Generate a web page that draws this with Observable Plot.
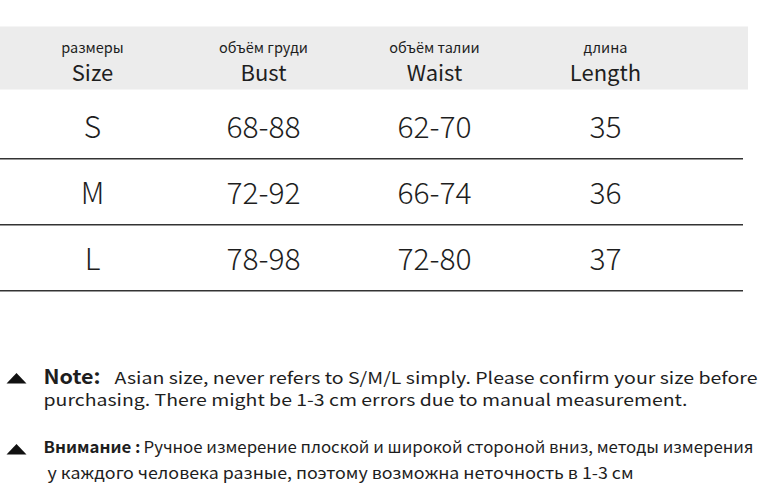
<!DOCTYPE html>
<html>
<head>
<meta charset="utf-8">
<script src="https://cdn.jsdelivr.net/npm/d3@7"></script>
<script src="https://cdn.jsdelivr.net/npm/@observablehq/plot@0.6"></script>
<style>
  html, body { margin: 0; padding: 0; background: #fff; }
  #chart svg { display: block; }
</style>
</head>
<body>
<div id="chart"></div>
<script>
// ---- data ----
const columns = ["Size", "Bust", "Waist", "Length"];
const headerRu = ["размеры", "объём груди", "объём талии", "длина"];
const sizes = ["S", "M", "L"];
const bust = ["68-88", "72-92", "78-98"];
const waist = ["62-70", "66-74", "72-80"];
const lengths = ["35", "36", "37"];

const noteEnLabel = "Note:";
const noteEnLines = [
  "Asian size, never refers to S/M/L simply. Please confirm your size before",
  "purchasing. There might be 1-3 cm errors due to manual measurement."
];
const noteRuLabel = "Внимание :";
const noteRuLines = [
  "Ручное измерение плоской и широкой стороной вниз, методы измерения",
  "у каждого человека разные, поэтому возможна неточность в 1-3 см"
];

// ---- tables built from the arrays ----
const rowsY = ["header", ...sizes];
const cells = [];
sizes.forEach((s, i) => {
  cells.push({row: s, col: "Size", text: s});
  cells.push({row: s, col: "Bust", text: bust[i]});
  cells.push({row: s, col: "Waist", text: waist[i]});
  cells.push({row: s, col: "Length", text: lengths[i]});
});
const headers = columns.map((c, i) => ({col: c, en: c, ru: headerRu[i]}));

const yTop = 25, yBottom = 291;
const bw = (yBottom - yTop) / rowsY.length;
const font = "'Noto Sans CJK SC', 'Noto Sans', sans-serif";
const ink = "#1e1e1e";

const flatTriangle = {
  draw(context) {
    context.moveTo(-10, 5);
    context.lineTo(10, 5);
    context.lineTo(0, -5.5);
    context.closePath();
  }
};

const chart = Plot.plot({
  width: 774,
  height: 490,
  margin: 0,
  marginRight: 26,
  style: {background: "#fff", fontFamily: font},
  x: {type: "point", domain: columns, range: [91, 606], padding: 0, axis: null},
  y: {type: "band", domain: rowsY, range: [yTop, yBottom], padding: 0, axis: null},
  marks: [
    // header band
    Plot.ruleY(["header"], {y: d => d, stroke: "#ececec", strokeWidth: 63, dy: -1.5}),
    // row separators
    Plot.ruleY(sizes, {y: d => d, dy: bw / 2, stroke: "#333", strokeWidth: 1.6, insetRight: 5}),
    // header texts
    Plot.text(headers, {x: "col", y: () => "header", text: "ru", fontSize: 14.5, lineAnchor: "bottom", dy: -7, fill: ink, fontFamily: font}),
    Plot.text(headers, {x: "col", y: () => "header", text: "en", fontSize: 22, lineAnchor: "bottom", dy: 21, fill: ink, fontFamily: font}),
    // body cells
    Plot.text(cells, {x: "col", y: "row", text: "text", fontSize: 30, fontWeight: 300, lineAnchor: "bottom", dy: 12, fill: ink, fontFamily: font}),
    // notes
    Plot.dot([0], {frameAnchor: "top-left", dx: 16, dy: 378, symbol: flatTriangle, fill: "#111", stroke: "none"}),
    Plot.dot([0], {frameAnchor: "top-left", dx: 16, dy: 449, symbol: flatTriangle, fill: "#111", stroke: "none"}),
    Plot.text([noteEnLabel], {frameAnchor: "top-left", text: d => d, dx: 43, dy: 383, lineAnchor: "bottom", textAnchor: "start", fontSize: 20, fontWeight: "bold", fill: ink, fontFamily: font}),
    Plot.text([noteEnLines[0]], {frameAnchor: "top-left", text: d => d, dx: 114, dy: 383, lineAnchor: "bottom", textAnchor: "start", fontSize: 16.5, fill: ink, fontFamily: font}),
    Plot.text([noteEnLines[1]], {frameAnchor: "top-left", text: d => d, dx: 43, dy: 405, lineAnchor: "bottom", textAnchor: "start", fontSize: 16.5, fill: ink, fontFamily: font}),
    Plot.text([noteRuLabel], {frameAnchor: "top-left", text: d => d, dx: 43, dy: 452, lineAnchor: "bottom", textAnchor: "start", fontSize: 16, fontWeight: "bold", fill: ink, fontFamily: font}),
    Plot.text([noteRuLines[0]], {frameAnchor: "top-left", text: d => d, dx: 143, dy: 452, lineAnchor: "bottom", textAnchor: "start", fontSize: 16, fill: ink, fontFamily: font}),
    Plot.text([noteRuLines[1]], {frameAnchor: "top-left", text: d => d, dx: 47, dy: 478, lineAnchor: "bottom", textAnchor: "start", fontSize: 16, fill: ink, fontFamily: font})
  ]
});

// fit the note lines to the widths in the reference
const widths = new Map([
  [noteEnLabel, 57],
  [noteEnLines[0], 643],
  [noteEnLines[1], 644],
  [noteRuLabel, 97],
  [noteRuLines[0], 610],
  [noteRuLines[1], 586]
]);
d3.select(chart).selectAll("text").each(function() {
  const w = widths.get(this.textContent);
  if (w) {
    this.setAttribute("textLength", w);
    this.setAttribute("lengthAdjust", "spacingAndGlyphs");
  }
});

document.getElementById("chart").appendChild(chart);
</script>
</body>
</html>
